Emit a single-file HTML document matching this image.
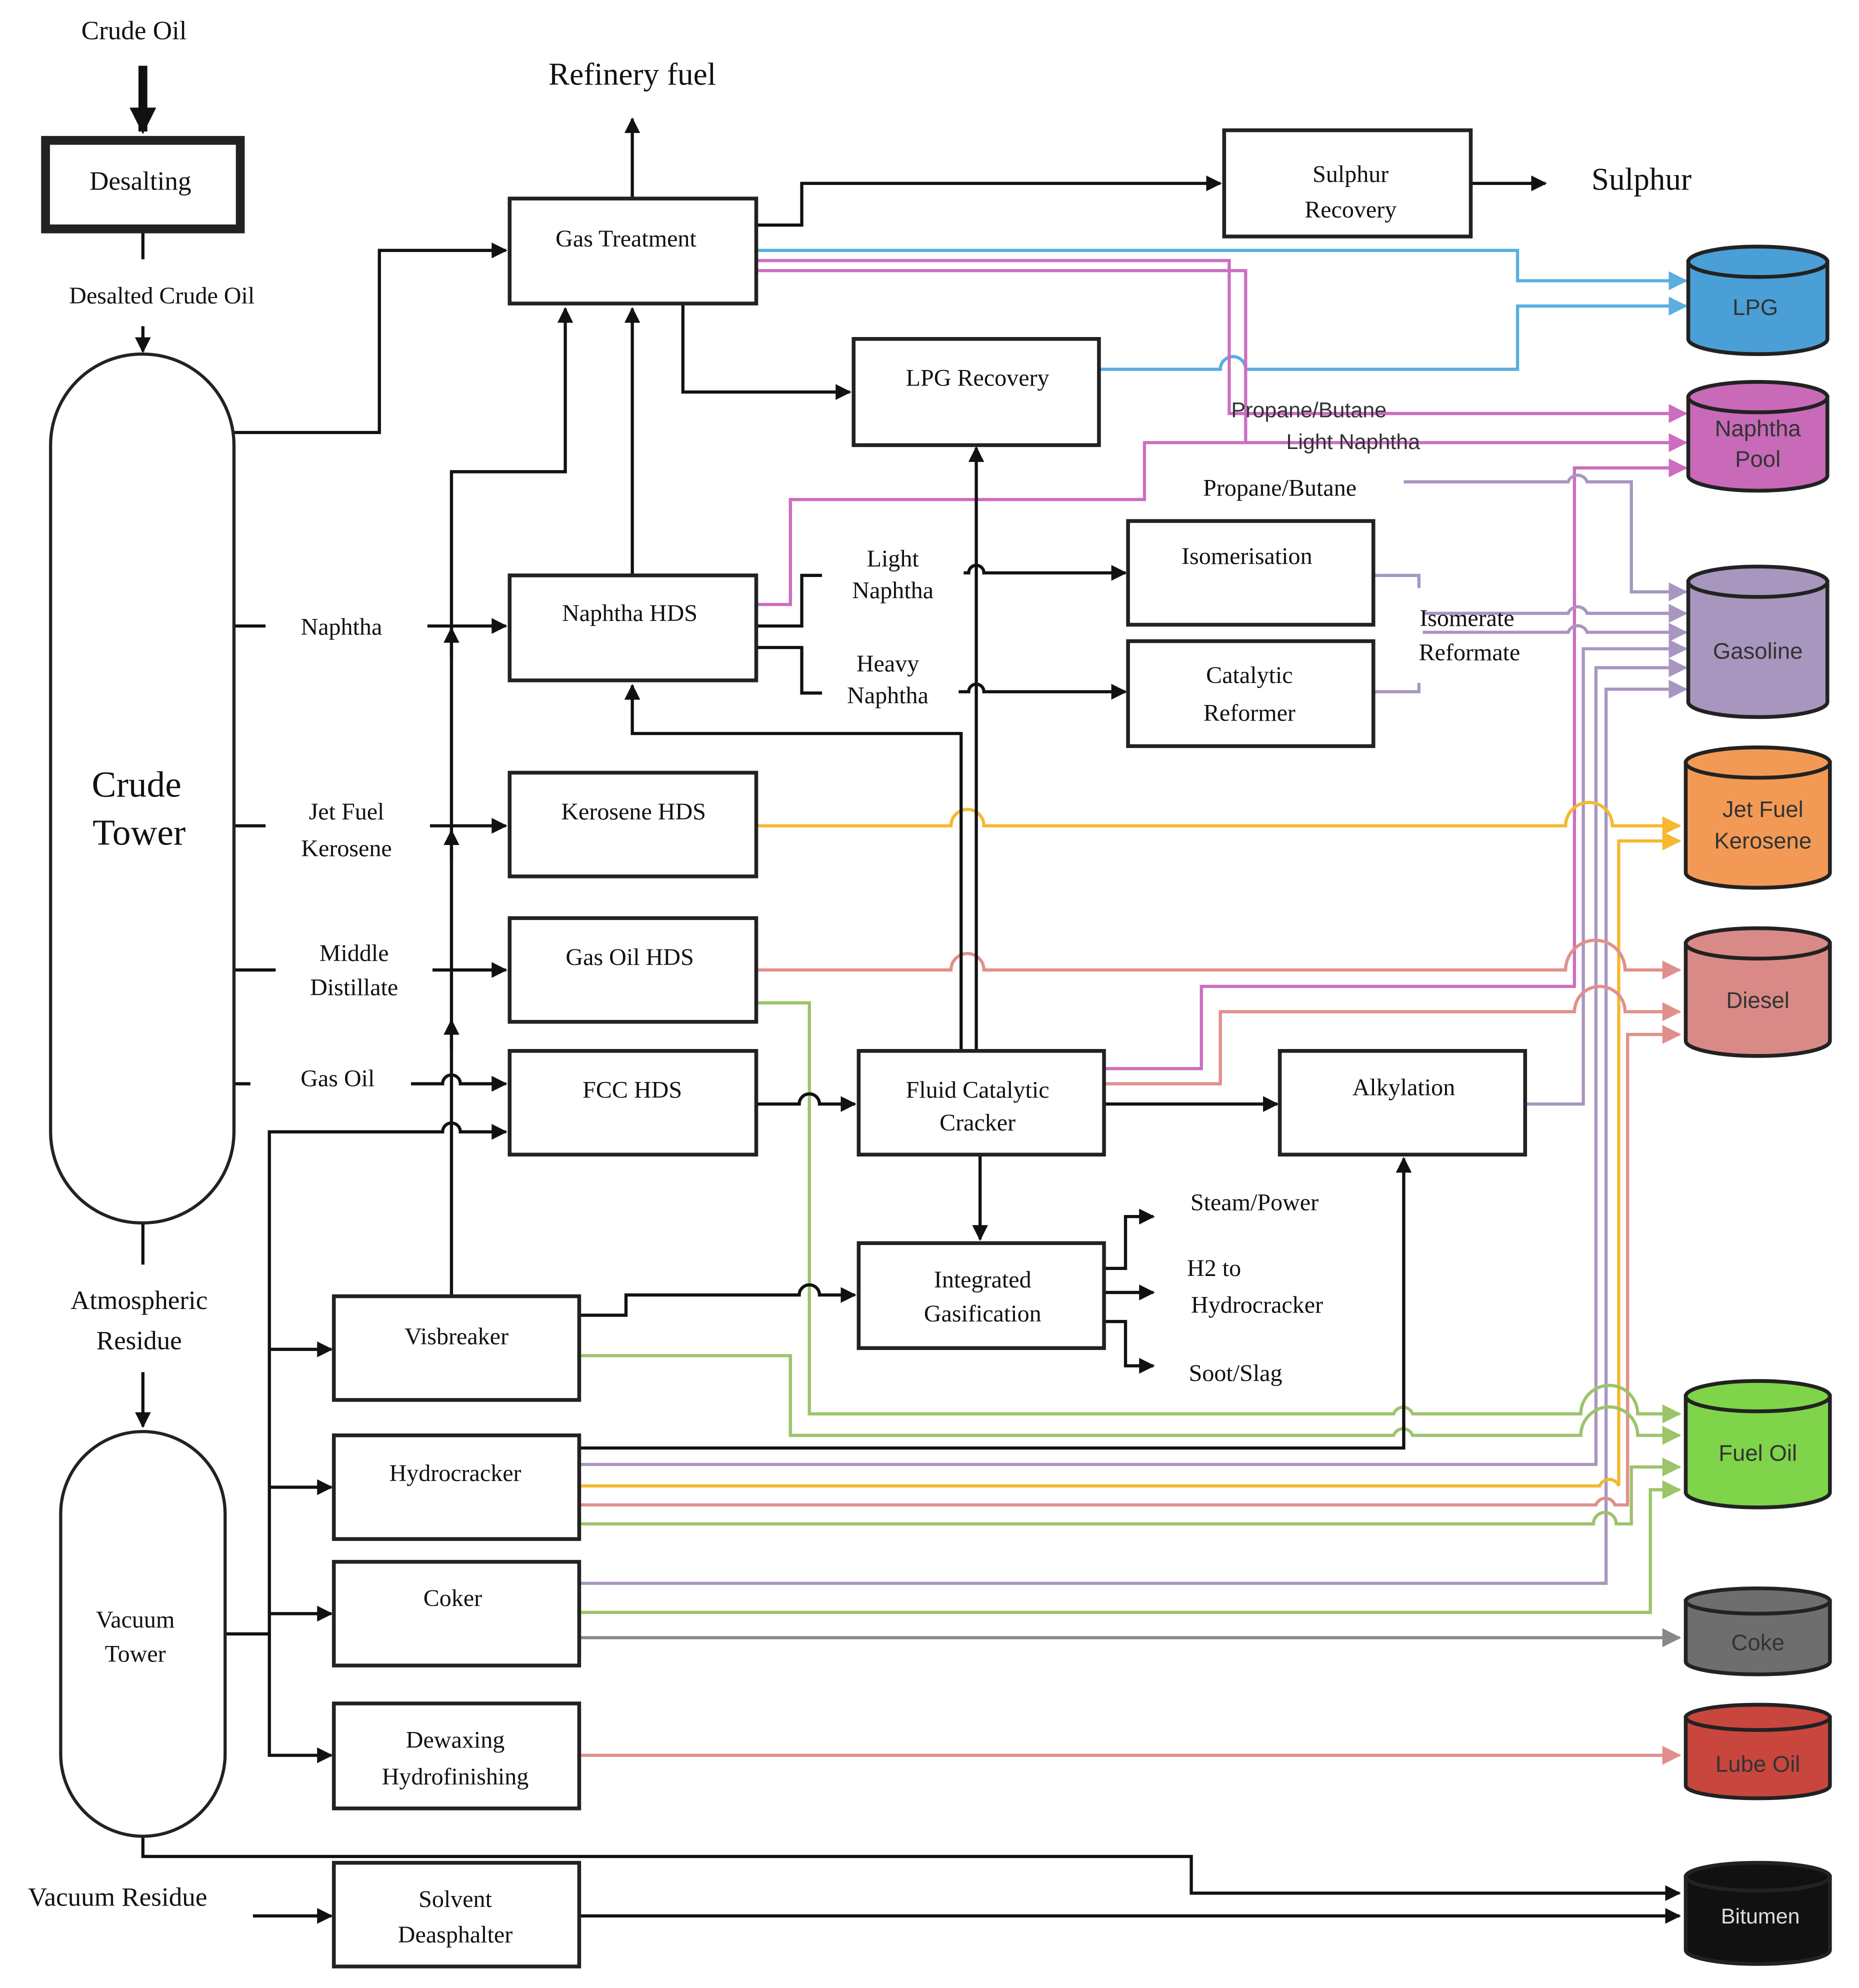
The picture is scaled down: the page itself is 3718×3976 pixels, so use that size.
<!DOCTYPE html>
<html><head><meta charset="utf-8"><style>html,body{margin:0;padding:0;background:#fff}svg{display:block}</style></head>
<body>
<svg width="3718" height="3976" viewBox="0 0 1470 1572" xmlns="http://www.w3.org/2000/svg">
<defs>
<marker id="ab" viewBox="0 0 10 10" refX="9" refY="5" markerWidth="5" markerHeight="5" orient="auto-start-reverse" markerUnits="strokeWidth"><path d="M0,0L10,5L0,10z" fill="#111"/></marker>
<marker id="abig" viewBox="0 0 10 10" refX="9" refY="5" markerWidth="3" markerHeight="3" orient="auto"><path d="M0,0L10,5L0,10z" fill="#111"/></marker>
<marker id="abl" viewBox="0 0 10 10" refX="9" refY="5" markerWidth="6" markerHeight="6" orient="auto"><path d="M0,0L10,5L0,10z" fill="#5aaee0"/></marker>
<marker id="apk" viewBox="0 0 10 10" refX="9" refY="5" markerWidth="6" markerHeight="6" orient="auto"><path d="M0,0L10,5L0,10z" fill="#cc6ec0"/></marker>
<marker id="alv" viewBox="0 0 10 10" refX="9" refY="5" markerWidth="6" markerHeight="6" orient="auto"><path d="M0,0L10,5L0,10z" fill="#a896c0"/></marker>
<marker id="aor" viewBox="0 0 10 10" refX="9" refY="5" markerWidth="6" markerHeight="6" orient="auto"><path d="M0,0L10,5L0,10z" fill="#f5b82e"/></marker>
<marker id="asa" viewBox="0 0 10 10" refX="9" refY="5" markerWidth="6" markerHeight="6" orient="auto"><path d="M0,0L10,5L0,10z" fill="#e0908c"/></marker>
<marker id="agr" viewBox="0 0 10 10" refX="9" refY="5" markerWidth="6" markerHeight="6" orient="auto"><path d="M0,0L10,5L0,10z" fill="#9cc46a"/></marker>
<marker id="agy" viewBox="0 0 10 10" refX="9" refY="5" markerWidth="6" markerHeight="6" orient="auto"><path d="M0,0L10,5L0,10z" fill="#888"/></marker>
</defs>
<g fill="none" stroke-width="2.5">
<!-- colored lines -->
<g stroke="#5aaee0">
<path d="M598,198H1200V222H1333" marker-end="url(#abl)"/>
<path d="M869,292H965A10,10 0 0 1 985,292H1200V242H1333" marker-end="url(#abl)"/>
</g>
<g stroke="#cc6ec0">
<path d="M598,206H972V327H1333" marker-end="url(#apk)"/>
<path d="M598,214H985V350H1333" marker-end="url(#apk)"/>
<path d="M598,478H625V395H905V350H985"/>
<path d="M873,845H950V780H1245V370H1333" marker-end="url(#apk)"/>
</g>
<g stroke="#a896c0">
<path d="M1086,455H1122V465"/>
<path d="M1086,547H1122V540"/>
<path d="M1110,381H1240A8,8 0 0 1 1255,381H1290V468H1333" marker-end="url(#alv)"/>
<path d="M1125,485H1240A8,8 0 0 1 1255,485H1333" marker-end="url(#alv)"/>
<path d="M1125,500H1240A8,8 0 0 1 1255,500H1333" marker-end="url(#alv)"/>
<path d="M1206,873H1252V513H1333" marker-end="url(#alv)"/>
<path d="M458,1158H1262V528H1333" marker-end="url(#alv)"/>
<path d="M458,1252H1270V545H1333" marker-end="url(#alv)"/>
</g>
<g stroke="#f5b82e">
<path d="M598,653H752A10,10 0 0 1 778,653H1238A15,15 0 0 1 1275,653H1328" marker-end="url(#aor)"/>
<path d="M458,1175H1265A8,8 0 0 1 1280,1175V665H1328" marker-end="url(#aor)"/>
</g>
<g stroke="#e0908c">
<path d="M598,767H752A10,10 0 0 1 778,767H1238A15,15 0 0 1 1285,767H1328" marker-end="url(#asa)"/>
<path d="M873,857H965V800H1245A12,12 0 0 1 1285,800H1328" marker-end="url(#asa)"/>
<path d="M458,1190H1262A8,8 0 0 1 1277,1190H1287V818H1328" marker-end="url(#asa)"/>
<path d="M458,1388H1328" marker-end="url(#asa)"/>
</g>
<g stroke="#9cc46a">
<path d="M598,793H640V1118H1102A8,8 0 0 1 1117,1118H1250A18,18 0 0 1 1295,1118V1118H1328" marker-end="url(#agr)"/>
<path d="M458,1072H625V1135H1102A8,8 0 0 1 1117,1135H1250A18,18 0 0 1 1295,1135H1328" marker-end="url(#agr)"/>
<path d="M458,1205H1260A8,8 0 0 1 1278,1205H1290V1160H1328" marker-end="url(#agr)"/>
<path d="M458,1275H1305V1178H1328" marker-end="url(#agr)"/>
</g>
<path d="M458,1295H1328" stroke="#888" marker-end="url(#agy)"/>
</g>
<!-- black lines -->
<g fill="none" stroke="#111" stroke-width="2.5">
<path d="M113,52V104" stroke-width="7" marker-end="url(#abig)"/>
<path d="M113,184V205"/>
<path d="M113,258V278" marker-end="url(#ab)"/>
<path d="M185,342H300V198H400" marker-end="url(#ab)"/>
<path d="M500,157V94" marker-end="url(#ab)"/>
<path d="M598,178H634V145H965" marker-end="url(#ab)"/>
<path d="M1163,145H1222" marker-end="url(#ab)"/>
<path d="M540,240V310H672" marker-end="url(#ab)"/>
<path d="M500,455V244" marker-end="url(#ab)"/>
<path d="M357,1025V373H447V244" marker-end="url(#ab)"/>
<path d="M357,520V497" marker-end="url(#ab)"/>
<path d="M357,680V657" marker-end="url(#ab)"/>
<path d="M357,830V807" marker-end="url(#ab)"/>
<path d="M185,495H210M338,495H400" marker-end="url(#ab)"/>
<path d="M185,653H210M340,653H400" marker-end="url(#ab)"/>
<path d="M185,767H218M342,767H400" marker-end="url(#ab)"/>
<path d="M185,857H198M325,857H350A7,7 0 0 1 364,857H400" marker-end="url(#ab)"/>
<path d="M178,1292H213V895H350A7,7 0 0 1 364,895H400" marker-end="url(#ab)"/>
<path d="M213,1067H262" marker-end="url(#ab)"/>
<path d="M213,1176H262" marker-end="url(#ab)"/>
<path d="M213,1276H262" marker-end="url(#ab)"/>
<path d="M213,1292V1388H262" marker-end="url(#ab)"/>
<path d="M113,967V1000"/>
<path d="M113,1085V1128" marker-end="url(#ab)"/>
<path d="M113,1452V1468H942V1497H1328" marker-end="url(#ab)"/>
<path d="M200,1515H262" marker-end="url(#ab)"/>
<path d="M458,1515H1328" marker-end="url(#ab)"/>
<path d="M598,495H634V455H650"/>
<path d="M598,512H634V548H650"/>
<path d="M762,453H766A6,6 0 0 1 778,453H890" marker-end="url(#ab)"/>
<path d="M758,547H766A6,6 0 0 1 778,547H890" marker-end="url(#ab)"/>
<path d="M772,831V354" marker-end="url(#ab)"/>
<path d="M760,831V580H500V542" marker-end="url(#ab)"/>
<path d="M598,873H632A8,8 0 0 1 648,873H676" marker-end="url(#ab)"/>
<path d="M873,873H1010" marker-end="url(#ab)"/>
<path d="M775,913V980" marker-end="url(#ab)"/>
<path d="M873,1003H890V962H912" marker-end="url(#ab)"/>
<path d="M873,1022H912" marker-end="url(#ab)"/>
<path d="M873,1045H890V1080H912" marker-end="url(#ab)"/>
<path d="M458,1040H495V1024H632A8,8 0 0 1 648,1024H676" marker-end="url(#ab)"/>
<path d="M458,1145H1110V916" marker-end="url(#ab)"/>
</g>
<!-- boxes -->
<g fill="#fff" stroke="#222" stroke-width="3">
<rect x="36" y="111" width="154" height="70" stroke-width="7"/>
<rect x="403" y="157" width="195" height="83"/>
<rect x="968" y="103" width="195" height="84"/>
<rect x="675" y="268" width="194" height="84"/>
<rect x="403" y="455" width="195" height="83"/>
<rect x="892" y="412" width="194" height="82"/>
<rect x="892" y="507" width="194" height="83"/>
<rect x="403" y="611" width="195" height="82"/>
<rect x="403" y="726" width="195" height="82"/>
<rect x="403" y="831" width="195" height="82"/>
<rect x="679" y="831" width="194" height="82"/>
<rect x="1012" y="831" width="194" height="82"/>
<rect x="679" y="983" width="194" height="83"/>
<rect x="264" y="1025" width="194" height="82"/>
<rect x="264" y="1135" width="194" height="82"/>
<rect x="264" y="1235" width="194" height="82"/>
<rect x="264" y="1347" width="194" height="83"/>
<rect x="264" y="1473" width="194" height="82"/>
<rect x="40" y="280" width="145" height="687" rx="72" ry="72" stroke-width="2.5"/>
<rect x="48" y="1132" width="130" height="320" rx="65" ry="65" stroke-width="2.5"/>
</g>
<!-- cylinders -->
<g stroke="#222" stroke-width="3">
<path d="M1335,207V268A55,12 0 0 0 1445,268V207Z" fill="#4a9fd6"/><ellipse cx="1390" cy="207" rx="55" ry="12" fill="#4a9fd6"/>
<path d="M1335,314V376A55,12 0 0 0 1445,376V314Z" fill="#c86ab8"/><ellipse cx="1390" cy="314" rx="55" ry="12" fill="#c86ab8"/>
<path d="M1335,460V555A55,12 0 0 0 1445,555V460Z" fill="#a896be"/><ellipse cx="1390" cy="460" rx="55" ry="12" fill="#a896be"/>
<path d="M1333,603V690A57,12 0 0 0 1447,690V603Z" fill="#f29a55"/><ellipse cx="1390" cy="603" rx="57" ry="12" fill="#f29a55"/>
<path d="M1333,746V823A57,12 0 0 0 1447,823V746Z" fill="#d98a86"/><ellipse cx="1390" cy="746" rx="57" ry="12" fill="#d98a86"/>
<path d="M1333,1104V1180A57,12 0 0 0 1447,1180V1104Z" fill="#7fd44a"/><ellipse cx="1390" cy="1104" rx="57" ry="12" fill="#7fd44a"/>
<path d="M1333,1266V1314A57,10 0 0 0 1447,1314V1266Z" fill="#6e6e6e"/><ellipse cx="1390" cy="1266" rx="57" ry="10" fill="#6e6e6e"/>
<path d="M1333,1358V1412A57,10 0 0 0 1447,1412V1358Z" fill="#c8463e"/><ellipse cx="1390" cy="1358" rx="57" ry="10" fill="#c8463e"/>
<path d="M1333,1484V1542A57,11 0 0 0 1447,1542V1484Z" fill="#111"/><ellipse cx="1390" cy="1484" rx="57" ry="11" fill="#111"/>
</g>
<g font-family="Liberation Sans, sans-serif" font-size="18" fill="#333" text-anchor="middle">
<text x="1388" y="249">LPG</text>
<text x="1390" y="345">Naphtha</text><text x="1390" y="369">Pool</text>
<text x="1390" y="521">Gasoline</text>
<text x="1394" y="646">Jet Fuel</text><text x="1394" y="671">Kerosene</text>
<text x="1390" y="797">Diesel</text>
<text x="1390" y="1155">Fuel Oil</text>
<text x="1390" y="1305">Coke</text>
<text x="1390" y="1401">Lube Oil</text>
<text x="1392" y="1521" fill="#ddd" font-size="17">Bitumen</text>
<text x="1035" y="330" font-size="17">Propane/Butane</text>
<text x="1070" y="355" font-size="17">Light Naphtha</text>
</g>
<g font-family="Liberation Serif, serif" font-size="19" fill="#111" text-anchor="middle">
<text x="106" y="31" font-size="21">Crude Oil</text>
<text x="111" y="150" font-size="21">Desalting</text>
<text x="128" y="240">Desalted Crude Oil</text>
<text x="500" y="67" font-size="25">Refinery fuel</text>
<text x="1298" y="150" font-size="25">Sulphur</text>
<text x="495" y="195">Gas Treatment</text>
<text x="1068" y="144">Sulphur</text><text x="1068" y="172">Recovery</text>
<text x="773" y="305">LPG Recovery</text>
<text x="1012" y="392">Propane/Butane</text>
<text x="498" y="491">Naphtha HDS</text>
<text x="706" y="448">Light</text><text x="706" y="473">Naphtha</text>
<text x="702" y="531">Heavy</text><text x="702" y="556">Naphtha</text>
<text x="986" y="446">Isomerisation</text>
<text x="988" y="540">Catalytic</text><text x="988" y="570">Reformer</text>
<text x="1160" y="495">Isomerate</text><text x="1162" y="522">Reformate</text>
<text x="108" y="630" font-size="29">Crude</text><text x="110" y="668" font-size="29">Tower</text>
<text x="270" y="502">Naphtha</text>
<text x="274" y="648">Jet Fuel</text><text x="274" y="677">Kerosene</text>
<text x="280" y="760">Middle</text><text x="280" y="787">Distillate</text>
<text x="267" y="859">Gas Oil</text>
<text x="501" y="648">Kerosene HDS</text>
<text x="498" y="763">Gas Oil HDS</text>
<text x="500" y="868">FCC HDS</text>
<text x="773" y="868">Fluid Catalytic</text><text x="773" y="894">Cracker</text>
<text x="1110" y="866">Alkylation</text>
<text x="992" y="957">Steam/Power</text>
<text x="960" y="1009">H2 to</text><text x="994" y="1038">Hydrocracker</text>
<text x="977" y="1092">Soot/Slag</text>
<text x="777" y="1018">Integrated</text><text x="777" y="1045">Gasification</text>
<text x="110" y="1035" font-size="21">Atmospheric</text><text x="110" y="1067" font-size="21">Residue</text>
<text x="361" y="1063">Visbreaker</text>
<text x="360" y="1171">Hydrocracker</text>
<text x="358" y="1270">Coker</text>
<text x="360" y="1382">Dewaxing</text><text x="360" y="1411">Hydrofinishing</text>
<text x="107" y="1287">Vacuum</text><text x="107" y="1314">Tower</text>
<text x="93" y="1507" font-size="21">Vacuum Residue</text>
<text x="360" y="1508">Solvent</text><text x="360" y="1536">Deasphalter</text>
</g>
</svg>
</body></html>
